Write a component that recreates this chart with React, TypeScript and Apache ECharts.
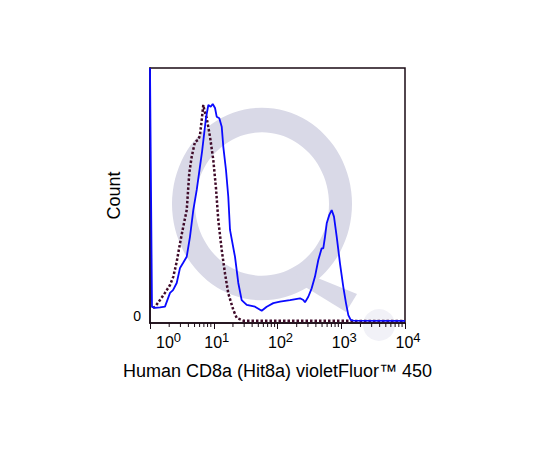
import React, { useEffect, useRef } from "react";
import * as echarts from "echarts";

// x values are log10(intensity) (decades), y values are % of max count
const blueX = [0, 0.031, 0.078, 0.157, 0.235, 0.314, 0.361, 0.419, 0.471, 0.518, 0.576, 0.627, 0.679, 0.733, 0.816, 0.878, 0.915, 0.952, 0.984, 1.02, 1.046, 1.087, 1.125, 1.15, 1.192, 1.228, 1.255, 1.333, 1.385, 1.438, 1.517, 1.647, 1.752, 1.831, 1.934, 2.039, 2.196, 2.353, 2.405, 2.431, 2.483, 2.536, 2.588, 2.64, 2.693, 2.718, 2.745, 2.772, 2.813, 2.85, 2.886, 2.929, 2.98, 3.032, 3.075, 3.111, 3.148, 3.189, 4.0];
const blueY = [100, 6.3, 5.9, 6.1, 6.4, 11.8, 12.9, 15.7, 21.6, 23.5, 26.0, 33.8, 44.3, 52.2, 67.1, 80.4, 85.5, 84.8, 85.9, 84.3, 80.9, 80.3, 77.0, 69.1, 60.0, 49.5, 36.5, 26.0, 15.7, 9.0, 7.1, 6.4, 4.8, 6.4, 7.8, 8.4, 9.0, 9.7, 9.0, 8.1, 10.3, 13.6, 18.2, 24.7, 29.3, 29.3, 33.8, 39.1, 42.4, 44.3, 41.7, 33.8, 23.4, 14.2, 7.7, 3.1, 1.2, 0.9, 0.8];

const isoX = [0.047, 0.078, 0.157, 0.235, 0.314, 0.366, 0.419, 0.471, 0.522, 0.576, 0.616, 0.654, 0.706, 0.758, 0.784, 0.811, 0.836, 0.863, 0.889, 0.941, 0.993, 1.035, 1.071, 1.125, 1.176, 1.228, 1.307, 1.36, 1.464, 4.0];
const isoY = [5.9, 6.3, 9.0, 11.8, 14.9, 18.2, 24.0, 31.3, 37.8, 44.3, 58.8, 65.2, 71.1, 71.8, 73.7, 79.6, 85.5, 82.4, 80.4, 73.1, 63.9, 52.9, 40.4, 28.6, 19.5, 11.6, 5.1, 2.0, 0.9, 0.8];

const decades = [0, 1, 2, 3];
const minorMultipliers = [2, 3, 4, 5, 6, 7, 8, 9];
const xTitle = "Human CD8a (Hit8a) violetFluor™ 450";
const yTitle = "Count";

const FONT = "'Liberation Sans', Arial, Helvetica, sans-serif";

export default function App() {
  const ref = useRef<HTMLDivElement>(null);
  useEffect(() => {
    document.body.style.margin = "0";
    const chart = echarts.init(ref.current!, undefined, { renderer: "svg" });
    const minorTicks: number[][] = [];
    decades.forEach((d) => minorMultipliers.forEach((m) => minorTicks.push([d + Math.log10(m), 0])));
    const option: any = {
      animation: false,
      backgroundColor: "#ffffff",
      grid: {
        left: 150,
        top: 68,
        width: 255,
        height: 255,
        show: true,
        borderColor: "#1a0a14",
        borderWidth: 1.5,
        backgroundColor: "transparent",
      },
      graphic: [
        {
          type: "ring",
          x: 262,
          y: 204,
          scaleY: 1.07,
          shape: { cx: 0, cy: 0, r: 90, r0: 67 },
          style: { fill: "#d9d9e7" },
          z: -10,
          silent: true,
        },
        {
          type: "polygon",
          shape: { points: [[293, 268], [357, 294], [346, 312], [302, 285]] },
          style: { fill: "#d9d9e7" },
          z: -10,
          silent: true,
        },
        {
          type: "circle",
          shape: { cx: 379, cy: 325, r: 16 },
          style: { fill: "#f1f1f7" },
          z: -10,
          silent: true,
        },
      ],
      xAxis: {
        type: "value",
        min: 0,
        max: 4,
        interval: 1,
        name: xTitle,
        nameLocation: "middle",
        nameGap: 39,
        nameTextStyle: { fontFamily: FONT, fontSize: 18, color: "#000" },
        axisLine: { show: true, lineStyle: { color: "#1a0a14", width: 1.5 } },
        axisTick: { show: true, length: 6, lineStyle: { color: "#1a0a14", width: 1 } },
        splitLine: { show: false },
        axisLabel: {
          margin: 10,
          alignMinLabel: "left",
          fontSize: 16,
          fontFamily: FONT,
          color: "#000",
          formatter: (v: number) => `{p|}{b|10}{s|${v}}`,
          rich: {
            p: { width: 6 },
            b: { fontFamily: FONT, fontSize: 16, lineHeight: 17, color: "#000", verticalAlign: "bottom" },
            s: { fontFamily: FONT, fontSize: 13, lineHeight: 13, color: "#000", padding: [0, 0, 6, 0], verticalAlign: "bottom" },
          },
        },
      },
      yAxis: {
        type: "value",
        min: 0,
        max: 100,
        name: yTitle,
        nameLocation: "middle",
        nameGap: 27,
        nameTextStyle: { fontFamily: FONT, fontSize: 18, color: "#000" },
        axisLine: { show: true, lineStyle: { color: "#1a0a14", width: 1.5 } },
        axisTick: { show: false },
        splitLine: { show: false },
        axisLabel: {
          margin: 9,
          fontFamily: FONT,
          fontSize: 14,
          color: "#000",
          verticalAlign: "bottom",
          formatter: (v: number) => (v === 0 ? "0" : ""),
        },
      },
      series: [
        {
          type: "custom",
          clip: false,
          silent: true,
          data: minorTicks,
          renderItem: (_p: any, api: any) => {
            const pt = api.coord([api.value(0), 0]);
            return {
              type: "line",
              shape: { x1: pt[0], y1: pt[1], x2: pt[0], y2: pt[1] + 4 },
              style: { stroke: "#1a0a14", lineWidth: 1 },
            };
          },
          z: 1,
        },
        {
          type: "line",
          data: isoX.map((x, i) => [x, isoY[i]]),
          showSymbol: false,
          lineStyle: { color: "#3f0a28", width: 2.5, type: [2.5, 2], cap: "butt" },
          z: 3,
        },
        {
          type: "line",
          data: blueX.map((x, i) => [x, blueY[i]]),
          showSymbol: false,
          lineStyle: { color: "#0a0aff", width: 1.8 },
          z: 4,
        },
      ],
    };
    chart.setOption(option);
    return () => chart.dispose();
  }, []);
  return <div ref={ref} style={{ width: 540, height: 450 }} />;
}
